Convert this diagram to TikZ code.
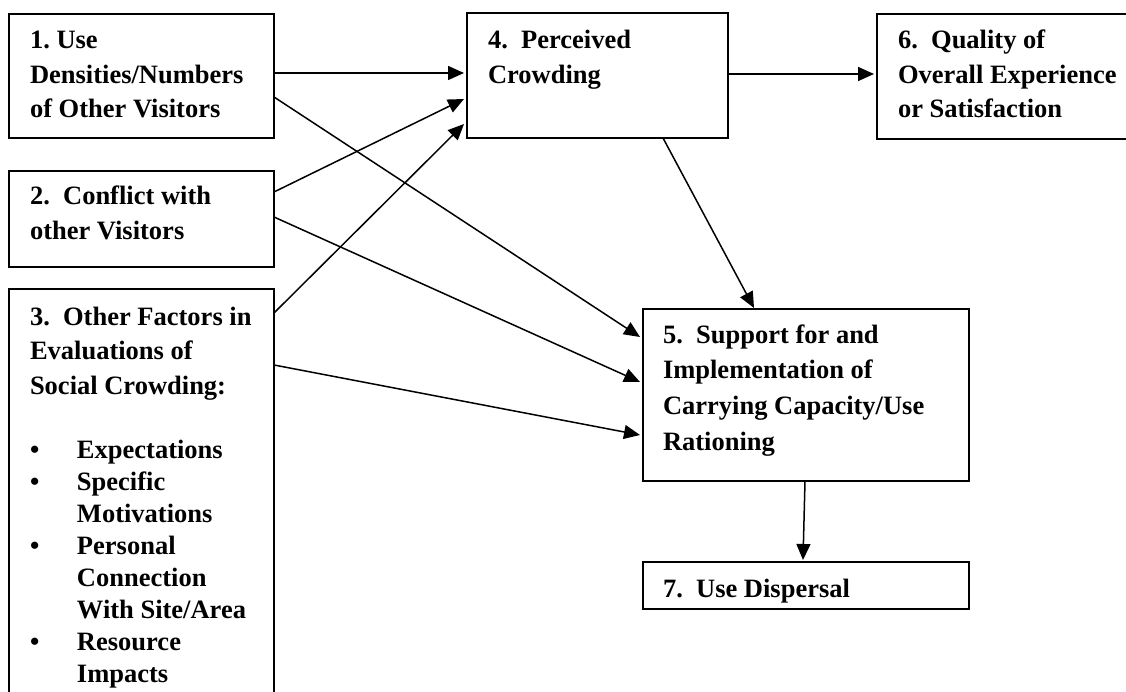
\documentclass[tikz,border=0pt]{standalone}
\usepackage{fontspec}
\setmainfont{Liberation Serif}
\usetikzlibrary{arrows.meta}
\begin{document}
\begin{tikzpicture}[x=1pt,y=-1pt,
  box/.style={draw, line width=1.9pt, anchor=north west, inner sep=0pt, outer sep=0pt},
  txt/.style={anchor=base west, inner sep=0pt, outer sep=0pt, font=\fontsize{26.5}{34.5}\selectfont\bfseries},
  conn/.style={line width=1.5pt, -{Triangle[length=16pt,width=14pt]}}]
\useasboundingbox (0,0) rectangle (1126,692);
% boxes
\node[box, minimum width=265pt, minimum height=124pt] (b1) at (9,14) {};
\node[box, minimum width=265pt, minimum height=96pt] (b2) at (9,171) {};
\node[box, minimum width=265pt, minimum height=430pt] (b3) at (9,289) {};
\node[box, minimum width=261pt, minimum height=125pt] (b4) at (467,13) {};
\node[box, minimum width=265pt, minimum height=125pt] (b6) at (877,14) {};
\node[box, minimum width=326pt, minimum height=172pt] (b5) at (643,309) {};
\node[box, minimum width=326pt, minimum height=47pt] (b7) at (643,562) {};
% texts
\node[txt] (t1) at (30,49) {\begin{tabular}[t]{@{}l@{}}1.\ Use\\Densities/Numbers\\of Other Visitors\end{tabular}};
\node[txt] (t2) at (30,205) {\begin{tabular}[t]{@{}l@{}}2.\ \ Conflict with\\other Visitors\end{tabular}};
\node[txt] (t3) at (30,325) {\begin{tabular}[t]{@{}l@{}}3.\ \ Other Factors in\\Evaluations of\\Social Crowding:\end{tabular}};
\node[txt, font=\fontsize{26.5}{32.1}\selectfont\bfseries] (t3b) at (30,458) {\begin{tabular}[t]{@{}p{47pt}@{}l@{}}\textbullet & Expectations\\ \textbullet & Specific\\ & Motivations\\ \textbullet & Personal\\ & Connection\\ & With Site/Area\\ \textbullet & Resource\\ & Impacts\end{tabular}};
\node[txt] (t4) at (488,49) {\begin{tabular}[t]{@{}l@{}}4.\ \ Perceived\\Crowding\end{tabular}};
\node[txt] (t6) at (898,49) {\begin{tabular}[t]{@{}l@{}}6.\ \ Quality of\\Overall Experience\\or Satisfaction\end{tabular}};
\node[txt, font=\fontsize{26.5}{35.7}\selectfont\bfseries] (t5) at (663,343) {\begin{tabular}[t]{@{}l@{}}5.\ \ Support for and\\Implementation of\\Carrying Capacity/Use\\Rationing\end{tabular}};
\node[txt] (t7) at (663,597) {7.\ \ Use Dispersal};
% connectors
\draw[conn] ([yshift=-59pt]b1.north east) -- ([xshift=-3pt,yshift=-60pt]b4.north west);
\draw[conn] ([yshift=-21pt]b2.north east) -- ([xshift=-3pt,yshift=-86pt]b4.north west);
\draw[conn] ([yshift=-24pt]b3.north east) -- ([xshift=-3pt,yshift=-111pt]b4.north west);
\draw[conn] ([yshift=-83pt]b1.north east) -- ([xshift=-3pt,yshift=-28pt]b5.north west);
\draw[conn] ([yshift=-46pt]b2.north east) -- ([xshift=-3pt,yshift=-73pt]b5.north west);
\draw[conn] ([yshift=-76pt]b3.north east) -- ([xshift=-3pt,yshift=-126pt]b5.north west);
\draw[conn] ([xshift=196pt]b4.south west) -- ([xshift=111pt,yshift=1pt]b5.north west);
\draw[conn] ([yshift=-61pt]b4.north east) -- ([xshift=-3pt,yshift=-60pt]b6.north west);
\draw[conn] ([xshift=162pt]b5.south west) -- ([xshift=160pt,yshift=2pt]b7.north west);
\end{tikzpicture}
\end{document}
